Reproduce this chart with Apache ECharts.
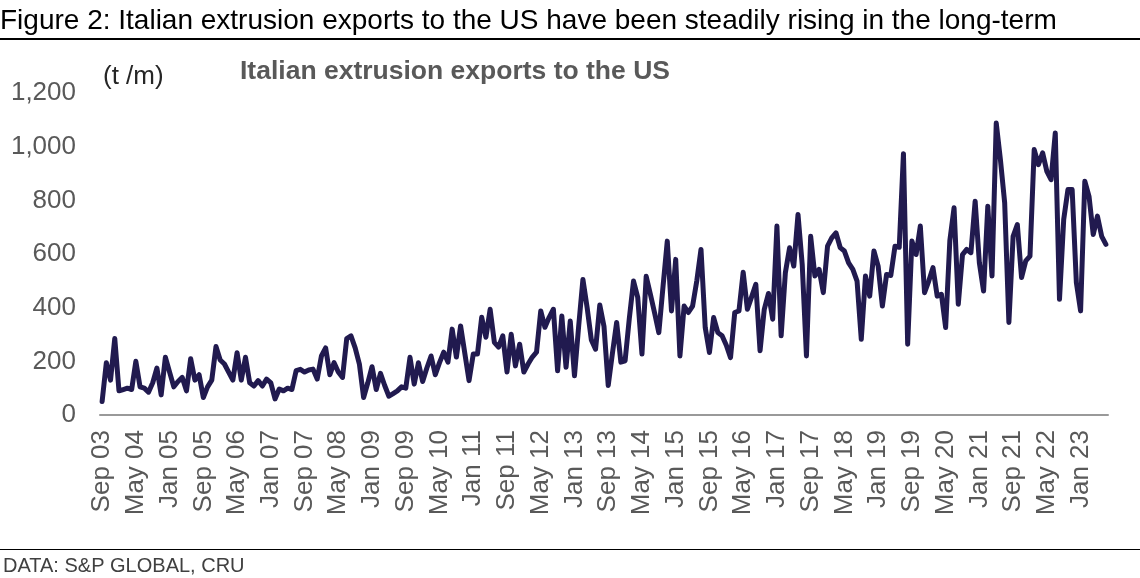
<!DOCTYPE html>
<html>
<head>
<meta charset="utf-8">
<script src="https://cdn.jsdelivr.net/npm/echarts@6/dist/echarts.min.js"></script>
<style>
html,body{margin:0;padding:0;background:#fff;}
#chart{width:1140px;height:578px;}
</style>
</head>
<body>
<div id="chart"></div>
<script>
// Monthly exports, t/month, Sep 2003 .. Jul 2023
const startYear = 2003;
const startMonth = 8; // 0-based: September
const monthNames = ['Jan','Feb','Mar','Apr','May','Jun','Jul','Aug','Sep','Oct','Nov','Dec'];

const exportsTpm = [
  50,195,130,285,90,95,100,95,200,105,
  100,85,120,175,75,215,160,105,125,140,
  90,210,130,150,65,105,130,255,205,190,
  160,130,232,130,215,120,108,128,108,134,
  120,60,97,90,100,95,165,170,160,168,
  171,134,220,250,150,195,160,140,285,295,
  250,190,65,120,180,95,155,110,70,80,
  90,105,100,215,115,195,125,175,220,150,
  195,234,197,320,216,332,230,128,227,227,
  364,290,394,271,253,295,160,301,183,264,
  160,190,216,234,388,327,364,394,165,369,
  178,350,146,332,505,400,280,245,410,330,
  110,230,345,197,202,360,499,438,227,517,
  450,380,307,480,648,388,580,220,406,382,
  406,500,617,326,233,363,307,295,260,214,
  382,388,532,394,440,487,239,394,453,357,
  704,295,530,623,555,747,560,220,666,518,
  543,456,629,660,679,624,611,567,543,499,
  282,518,443,611,555,406,524,520,629,625,
  974,264,648,598,704,456,499,549,443,450,
  326,650,772,413,598,617,605,797,567,462,
  778,518,1088,950,791,345,666,710,512,574,
  592,989,933,977,908,877,1051,431,729,840,
  840,493,388,871,815,673,741,666,636
];

const yTicks = [0, 200, 400, 600, 800, 1000, 1200];

const categories = exportsTpm.map(function (_, i) {
  const m = (startMonth + i) % 12;
  const y = startYear + Math.floor((startMonth + i) / 12);
  return monthNames[m] + ' ' + String(y % 100).padStart(2, '0');
});

const FONT = "'Liberation Sans', Arial, sans-serif";
const chart = echarts.init(document.getElementById('chart'), null, {renderer: 'canvas'});

chart.setOption({
  backgroundColor: '#ffffff',
  animation: false,
  title: [
    {
      text: 'Figure 2: Italian extrusion exports to the US have been steadily rising in the long-term',
      left: 0, top: 7, padding: 0,
      textStyle: {fontFamily: FONT, fontSize: 28, fontWeight: 'normal', color: '#000000'}
    },
    {
      text: 'Italian extrusion exports to the US',
      left: 240, top: 58, padding: 0,
      textStyle: {fontFamily: FONT, fontSize: 26.5, fontWeight: 'bold', color: '#595959'}
    },
    {
      text: '(t /m)',
      left: 103, top: 64, padding: 0,
      textStyle: {fontFamily: FONT, fontSize: 26, fontWeight: 'normal', color: '#262626'}
    },
    {
      text: 'DATA: S&P GLOBAL, CRU',
      left: 3, top: 556, padding: 0,
      textStyle: {fontFamily: FONT, fontSize: 20, fontWeight: 'normal', color: '#404040'}
    }
  ],
  graphic: [
    {type: 'rect', shape: {x: 0, y: 38, width: 1140, height: 2}, style: {fill: '#000000'}, silent: true},
    {type: 'rect', shape: {x: 0, y: 549, width: 1140, height: 1}, style: {fill: '#000000'}, silent: true}
  ],
  grid: {left: 100, right: 32, top: 93, bottom: 163, containLabel: false},
  xAxis: {
    type: 'category',
    data: categories,
    boundaryGap: true,
    axisLine: {show: true, lineStyle: {color: '#999999', width: 2}},
    axisTick: {show: false},
    axisLabel: {
      interval: 7,
      rotate: 90,
      margin: 15,
      fontFamily: FONT,
      fontSize: 26,
      color: '#595959'
    },
    splitLine: {show: false}
  },
  yAxis: {
    type: 'value',
    min: yTicks[0],
    max: yTicks[yTicks.length - 1],
    interval: 200,
    axisLine: {show: false},
    axisTick: {show: false},
    splitLine: {show: false},
    axisLabel: {
      margin: 24,
      fontFamily: FONT,
      fontSize: 26,
      color: '#595959',
      formatter: function (v) { return v.toLocaleString('en-US'); }
    }
  },
  series: [{
    type: 'line',
    data: exportsTpm,
    symbol: 'none',
    lineStyle: {color: '#211a4f', width: 5, join: 'round', cap: 'round'},
    itemStyle: {color: '#211a4f'}
  }]
});
</script>
</body>
</html>
